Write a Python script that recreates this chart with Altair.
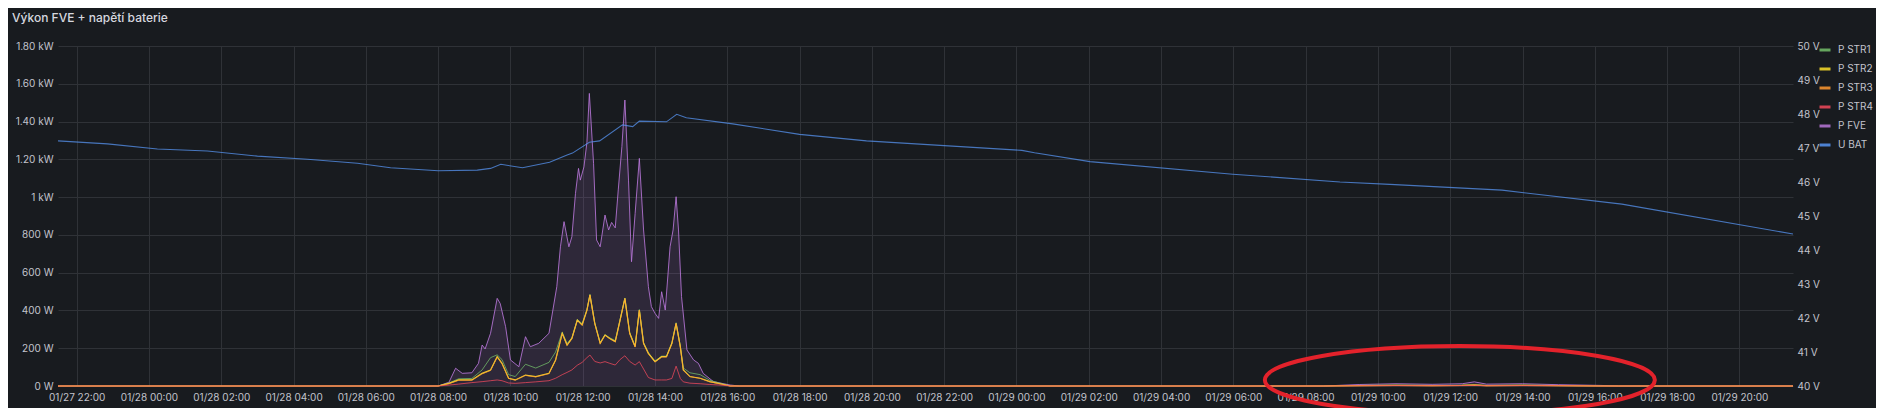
import altair as alt
import pandas as pd

# ---------------- data ----------------
series_names = ["P STR1", "P STR2", "P STR3", "P STR4", "P FVE", "U BAT"]
series_colors = ["#73BF69", "#FADE2A", "#FF9830", "#F2495C", "#B877D9", "#5794F2"]

fve_times = [
    "2025-01-27T21:29", "2025-01-28T08:00", "2025-01-28T08:18", "2025-01-28T08:29", "2025-01-28T08:40",
    "2025-01-28T08:56", "2025-01-28T09:07", "2025-01-28T09:13", "2025-01-28T09:18", "2025-01-28T09:27",
    "2025-01-28T09:38", "2025-01-28T09:43", "2025-01-28T09:52", "2025-01-28T10:00", "2025-01-28T10:14",
    "2025-01-28T10:25", "2025-01-28T10:33", "2025-01-28T10:47", "2025-01-28T11:04", "2025-01-28T11:17",
    "2025-01-28T11:23", "2025-01-28T11:29", "2025-01-28T11:37", "2025-01-28T11:42", "2025-01-28T11:48",
    "2025-01-28T11:53", "2025-01-28T11:56", "2025-01-28T12:02", "2025-01-28T12:07", "2025-01-28T12:11",
    "2025-01-28T12:18", "2025-01-28T12:23", "2025-01-28T12:29", "2025-01-28T12:37", "2025-01-28T12:43",
    "2025-01-28T12:48", "2025-01-28T12:54", "2025-01-28T12:59", "2025-01-28T13:05", "2025-01-28T13:10",
    "2025-01-28T13:16", "2025-01-28T13:21", "2025-01-28T13:27", "2025-01-28T13:34", "2025-01-28T13:41",
    "2025-01-28T13:49", "2025-01-28T13:54", "2025-01-28T14:00", "2025-01-28T14:06", "2025-01-28T14:11",
    "2025-01-28T14:17", "2025-01-28T14:25", "2025-01-28T14:30", "2025-01-28T14:35", "2025-01-28T14:39",
    "2025-01-28T14:44", "2025-01-28T14:53", "2025-01-28T15:04", "2025-01-28T15:12", "2025-01-28T15:20",
    "2025-01-28T15:37", "2025-01-28T16:05", "2025-01-28T16:20",
    "2025-01-29T08:30", "2025-01-29T09:30", "2025-01-29T10:30", "2025-01-29T11:30", "2025-01-29T12:20",
    "2025-01-29T12:40", "2025-01-29T13:00", "2025-01-29T14:00", "2025-01-29T15:00", "2025-01-29T16:10",
    "2025-01-29T16:40", "2025-01-29T21:29",
]
fve_values = [
    0, 0, 20, 94, 67,
    70, 120, 217, 196, 279,
    464, 437, 314, 138, 102,
    261, 208, 226, 279, 526,
    737, 870, 737, 790, 1020,
    1152, 1090, 1160, 1290, 1549,
    1179, 773, 737, 905, 826,
    866, 837, 1038, 1267, 1514,
    1090, 658, 914, 1205, 826,
    526, 420, 385, 358, 499,
    402, 737, 826, 1002, 826,
    473, 191, 138, 120, 67,
    23, 5, 0,
    0, 8, 12, 9, 12,
    22, 10, 12, 7, 3,
    0, 0,
]

str_times = [
    "2025-01-27T21:29", "2025-01-28T08:00", "2025-01-28T08:18", "2025-01-28T08:34", "2025-01-28T08:56",
    "2025-01-28T09:13", "2025-01-28T09:27", "2025-01-28T09:38", "2025-01-28T09:46", "2025-01-28T09:57",
    "2025-01-28T10:08", "2025-01-28T10:25", "2025-01-28T10:42", "2025-01-28T11:04", "2025-01-28T11:15",
    "2025-01-28T11:26", "2025-01-28T11:34", "2025-01-28T11:42", "2025-01-28T11:51", "2025-01-28T11:59",
    "2025-01-28T12:07", "2025-01-28T12:12", "2025-01-28T12:20", "2025-01-28T12:29", "2025-01-28T12:37",
    "2025-01-28T12:45", "2025-01-28T12:54", "2025-01-28T13:02", "2025-01-28T13:10", "2025-01-28T13:18",
    "2025-01-28T13:27", "2025-01-28T13:34", "2025-01-28T13:41", "2025-01-28T13:49", "2025-01-28T14:00",
    "2025-01-28T14:11", "2025-01-28T14:19", "2025-01-28T14:28", "2025-01-28T14:35", "2025-01-28T14:42",
    "2025-01-28T14:47", "2025-01-28T14:58", "2025-01-28T15:15", "2025-01-28T15:31", "2025-01-28T15:48",
    "2025-01-28T16:05", "2025-01-28T16:20",
    "2025-01-29T08:30", "2025-01-29T09:30", "2025-01-29T10:30", "2025-01-29T11:30", "2025-01-29T12:20",
    "2025-01-29T12:40", "2025-01-29T13:00", "2025-01-29T14:00", "2025-01-29T15:00", "2025-01-29T16:10",
    "2025-01-29T16:40", "2025-01-29T21:29",
]
str1_values = [
    0, 0, 16, 38, 40, 85, 150, 165, 140, 60,
    50, 115, 95, 125, 180, 285, 225, 255, 352, 330,
    405, 485, 335, 230, 272, 255, 240, 352, 466, 282,
    212, 405, 230, 176, 132, 158, 158, 228, 335, 212,
    95, 70, 60, 30, 15, 0, 0,
    0, 3, 4, 3, 4, 6, 3, 4, 2, 0, 0, 0,
]
str2_values = [
    0, 0, 14, 32, 32, 67, 85, 155, 120, 41,
    32, 58, 50, 67, 138, 279, 217, 252, 349, 323,
    402, 482, 332, 226, 270, 252, 235, 349, 464, 279,
    208, 402, 226, 173, 129, 155, 155, 226, 332, 208,
    85, 50, 41, 23, 12, 0, 0,
    0, 2, 3, 2, 3, 5, 2, 3, 2, 0, 0, 0,
]
str3_values = [
    0, 0, 12, 30, 30, 64, 82, 152, 118, 40,
    30, 56, 48, 65, 136, 277, 215, 250, 347, 321,
    400, 480, 330, 224, 268, 250, 233, 347, 462, 277,
    206, 400, 224, 171, 127, 153, 153, 224, 330, 206,
    83, 49, 40, 22, 11, 0, 0,
    0, 2, 3, 2, 3, 6, 2, 3, 2, 0, 0, 0,
]
str4_values = [
    0, 0, 5, 10, 18, 23, 28, 32, 28, 16,
    14, 18, 22, 28, 41, 60, 72, 85, 110, 125,
    150, 164, 130, 122, 129, 120, 111, 140, 160, 130,
    111, 129, 90, 45, 32, 32, 32, 40, 105, 40,
    22, 15, 12, 8, 5, 0, 0,
    0, 1, 2, 1, 2, 3, 1, 2, 1, 0, 0, 0,
]

ubat_times = [
    "2025-01-27T21:29", "2025-01-27T22:51", "2025-01-28T00:14", "2025-01-28T01:37", "2025-01-28T03:00",
    "2025-01-28T04:23", "2025-01-28T05:46", "2025-01-28T06:41", "2025-01-28T08:00", "2025-01-28T09:05",
    "2025-01-28T09:27", "2025-01-28T09:44", "2025-01-28T10:20", "2025-01-28T11:05", "2025-01-28T11:33",
    "2025-01-28T11:43", "2025-01-28T12:11", "2025-01-28T12:28", "2025-01-28T13:06", "2025-01-28T13:23",
    "2025-01-28T13:34", "2025-01-28T14:19", "2025-01-28T14:36", "2025-01-28T14:52", "2025-01-28T16:09",
    "2025-01-28T18:00", "2025-01-28T19:51", "2025-01-29T00:09", "2025-01-29T00:30", "2025-01-29T02:02",
    "2025-01-29T05:59", "2025-01-29T08:57", "2025-01-29T10:20", "2025-01-29T13:26", "2025-01-29T16:45",
    "2025-01-29T21:29",
]
ubat_values = [
    47.21, 47.12, 46.97, 46.91, 46.76,
    46.67, 46.55, 46.42, 46.33, 46.35,
    46.40, 46.52, 46.42, 46.58, 46.79,
    46.85, 47.17, 47.21, 47.68, 47.63,
    47.79, 47.77, 47.99, 47.89, 47.71,
    47.40, 47.21, 46.93, 46.86, 46.60,
    46.23, 46.00, 45.93, 45.76, 45.35,
    44.47,
]

# x tick positions (every 2 hours) as (day, hour) in January 2025
x_tick_days = [27] + [28] * 12 + [29] * 11
x_tick_hours = [22] + list(range(0, 24, 2)) + list(range(0, 22, 2))
x_domain = [(27, 21, 29), (29, 21, 29)]

power_ticks = [0, 200, 400, 600, 800, 1000, 1200, 1400, 1600, 1800]
volt_ticks = [40, 41, 42, 43, 44, 45, 46, 47, 48, 49, 50]

# hand-drawn red ellipse annotation (centre in data units)
marker_times = ["2025-01-29T12:16"]
marker_values = [32]

# ---------------- tables ----------------
fve_df = pd.DataFrame({"time": fve_times, "value": fve_values, "series": "P FVE"})
str_frames = []
for name, vals in zip(series_names[:4], [str1_values, str2_values, str3_values, str4_values]):
    str_frames.append(pd.DataFrame({"time": str_times, "value": vals, "series": name}))
ubat_df = pd.DataFrame({"time": ubat_times, "value": ubat_values, "series": "U BAT"})
marker_df = pd.DataFrame({"time": marker_times, "value": marker_values})

FONT = "Inter"
LABEL = "#c3c4cd"
GRID = "#2f3237"

x_values = [alt.DateTime(year=2025, month=1, date=d, hours=h, minutes=0)
            for d, h in zip(x_tick_days, x_tick_hours)]
x_dom = [alt.DateTime(year=2025, month=1, date=d, hours=h, minutes=m) for d, h, m in x_domain]

x_enc = alt.X(
    "time:T",
    scale=alt.Scale(domain=x_dom),
    axis=alt.Axis(
        format="%m/%d %H:%M", values=x_values,
        grid=True, gridColor=GRID, ticks=False, domain=False, labelFlush=False,
        labelPadding=6, labelFontSize=10, labelColor=LABEL, labelFont=FONT, title=None,
    ),
)

color_scale = alt.Scale(domain=series_names, range=series_colors)
legend = alt.Legend(
    orient="none", legendX=1760, legendY=-3, title=None, symbolType="stroke",
    symbolStrokeWidth=3, symbolSize=121, labelFontSize=10, labelColor=LABEL,
    labelFont=FONT, labelOffset=6, rowPadding=6,
)

y_power = alt.Y(
    "value:Q",
    scale=alt.Scale(domain=[0, 1800], nice=False),
    axis=alt.Axis(
        values=power_ticks, grid=True, gridColor=GRID, ticks=False, domain=False,
        labelPadding=5, labelFontSize=10, labelColor=LABEL, labelFont=FONT, title=None,
        labelExpr="datum.value == 0 ? '0 W' : (datum.value < 1000 ? datum.value + ' W' : (datum.value == 1000 ? '1 kW' : format(datum.value / 1000, '.2f') + ' kW'))",
    ),
)

area = alt.Chart(fve_df).mark_area(color="#B877D9", opacity=0.14).encode(
    x=x_enc, y=y_power
)

def line_layer(df, width=1.0, opacity=1.0):
    return alt.Chart(df).mark_line(strokeWidth=width, opacity=opacity).encode(
        x=x_enc, y=y_power,
        color=alt.Color("series:N", scale=color_scale, legend=legend),
    )

fve_line = line_layer(fve_df, 1.0, 0.85)
str_lines = [line_layer(str_frames[0], 1.0, 0.75), line_layer(str_frames[1], 1.2, 0.95),
             line_layer(str_frames[2], 1.0, 0.7), line_layer(str_frames[3], 1.0, 0.75)]

ellipse_path = ("M-1,0 C-1,-0.0961 -0.5523,-0.174 0,-0.174 C0.5523,-0.174 1,-0.0961 1,0 "
                "C1,0.0961 0.5523,0.174 0,0.174 C-0.5523,0.174 -1,0.0961 -1,0 Z")
ellipse = alt.Chart(marker_df).mark_point(
    shape=ellipse_path, size=152100, filled=False, color="#e3222b", strokeWidth=4, opacity=1
).encode(x=x_enc, y=y_power)

power = alt.layer(area, fve_line, *str_lines, ellipse)

ubat = alt.Chart(ubat_df).mark_line(strokeWidth=1.1, opacity=0.75).encode(
    x=x_enc,
    y=alt.Y(
        "value:Q",
        scale=alt.Scale(domain=[40, 50], nice=False, zero=False),
        axis=alt.Axis(
            orient="right", values=volt_ticks, grid=False, ticks=False, domain=False,
            labelPadding=4, labelFontSize=10, labelColor=LABEL, labelFont=FONT, title=None,
            labelExpr="datum.value + ' V'",
        ),
    ),
    color=alt.Color("series:N", scale=color_scale, legend=legend),
)

chart = alt.layer(power, ubat).resolve_scale(y="independent").properties(
    width=1735, height=340,
    padding={"left": 50, "top": 38, "right": 83, "bottom": 22},
    autosize=alt.AutoSizeParams(type="none"),
    background="#181b1f",
    title=alt.TitleParams(
        "Výkon FVE + napětí baterie", anchor="start", frame="group", dx=-46, offset=16,
        fontSize=12, font=FONT, fontWeight=500, color="#d6d7df",
    ),
).configure_view(stroke=None)

chart.save("out.html", embed_options={"renderer": "svg", "actions": False})
